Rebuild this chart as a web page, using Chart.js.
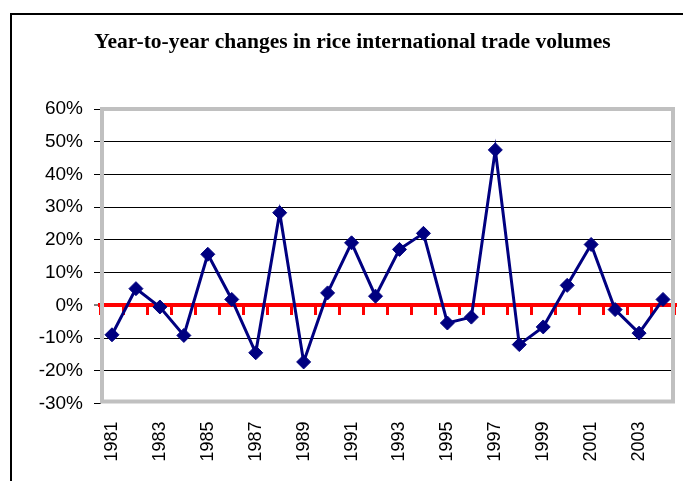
<!DOCTYPE html>
<html>
<head>
<meta charset="utf-8">
<script src="https://cdn.jsdelivr.net/npm/chart.js@4/dist/chart.umd.min.js"></script>
<style>
  html, body { margin: 0; padding: 0; background: #ffffff; width: 683px; height: 481px; overflow: hidden; }
  #frame { position: absolute; left: 10px; top: 13px; width: 800px; height: 600px;
           border-left: 2px solid #000; border-top: 2px solid #000; }
  #c { position: absolute; left: 0; top: 0; }
</style>
</head>
<body>
<div id="frame"></div>
<canvas id="c" width="683" height="481"></canvas>
<script>
const chartTitle = 'Year-to-year changes in rice international trade volumes';
const years = ['1981','1982','1983','1984','1985','1986','1987','1988','1989','1990','1991','1992',
               '1993','1994','1995','1996','1997','1998','1999','2000','2001','2002','2003','2004'];
const changes = [-9.0, 5.1, -0.5, -9.2, 15.6, 1.8, -14.5, 28.3, -17.3, 3.8, 19.1, 2.8,
                 17.1, 22.0, -5.4, -3.6, 47.5, -12.0, -6.6, 6.1, 18.6, -1.3, -8.5, 1.8];
const yTicks = [-30, -20, -10, 0, 10, 20, 30, 40, 50, 60];

const plotBorder = {
  id: 'plotBorder',
  beforeDatasetsDraw(chart) {
    const a = chart.chartArea;
    const ctx = chart.ctx;
    ctx.save();
    ctx.strokeStyle = '#c0c0c0';
    ctx.lineWidth = 4;
    ctx.strokeRect(a.left + 2, a.top, a.right - a.left - 4, a.bottom - a.top - 2);
    ctx.restore();
  }
};

function noSidePadding(s) { s.paddingLeft = 0; s.paddingRight = 0; }

new Chart(document.getElementById('c'), {
  type: 'line',
  data: {
    labels: years,
    datasets: [{
      data: changes,
      borderColor: '#000080',
      backgroundColor: '#000080',
      borderWidth: 3,
      tension: 0,
      pointStyle: 'rectRot',
      pointRadius: 7,
      pointBorderWidth: 1,
      pointBorderColor: '#000080',
      pointBackgroundColor: '#000080',
      xAxisID: 'x',
      yAxisID: 'y'
    }]
  },
  options: {
    responsive: false,
    animation: false,
    devicePixelRatio: 1,
    layout: { padding: { left: 28, right: 6, top: 0, bottom: 0 } },
    plugins: {
      legend: { display: false },
      tooltip: { enabled: false },
      title: {
        display: true,
        text: chartTitle,
        color: '#000',
        font: { family: '"Liberation Serif", "Times New Roman", serif', size: 21.5, weight: 'bold', lineHeight: 1.2 },
        padding: { top: 30, bottom: 53.2 }
      }
    },
    scales: {
      x: {
        type: 'category',
        position: 'bottom',
        offset: true,
        grid: { display: false, drawTicks: false },
        border: { display: false },
        ticks: {
          autoSkip: false,
          minRotation: 90,
          maxRotation: 90,
          padding: 18,
          color: '#000',
          font: { family: '"Liberation Sans", Arial, sans-serif', size: 18 },
          callback: (v, i) => (i % 2 === 0 ? years[i] : '')
        },
        afterFit: (s) => { s.height = 77.5; noSidePadding(s); }
      },
      x2: {
        type: 'category',
        position: { y: 0 },
        offset: true,
        grid: {
          display: true,
          drawOnChartArea: false,
          offset: true,
          color: '#ff0000',
          lineWidth: 3,
          tickLength: 8
        },
        border: { display: true, color: '#ff0000', width: 4 },
        ticks: { display: false },
        afterFit: (s) => { s.height = 0; noSidePadding(s); }
      },
      y: {
        min: -30,
        max: 60,
        afterBuildTicks: (s) => { s.ticks = yTicks.map(v => ({ value: v })); },
        grid: {
          color: (ctx) => (ctx.tick && ctx.tick.value === 0 ? '#ff0000' :
                           (ctx.tick && (ctx.tick.value === 60 || ctx.tick.value === -30) ? 'rgba(0,0,0,0)' : '#000')),
          lineWidth: (ctx) => (ctx.tick && ctx.tick.value === 0 ? 4 : 1),
          tickColor: '#000',
          tickWidth: 1,
          tickLength: 6
        },
        border: { display: true, color: '#000', width: 1 },
        ticks: {
          padding: 11,
          color: '#000',
          font: { family: '"Liberation Sans", Arial, sans-serif', size: 19 },
          callback: (v) => v + '%'
        },
        afterFit: (s) => { s.width = 72; }
      }
    }
  },
  plugins: [plotBorder]
});
</script>
</body>
</html>
